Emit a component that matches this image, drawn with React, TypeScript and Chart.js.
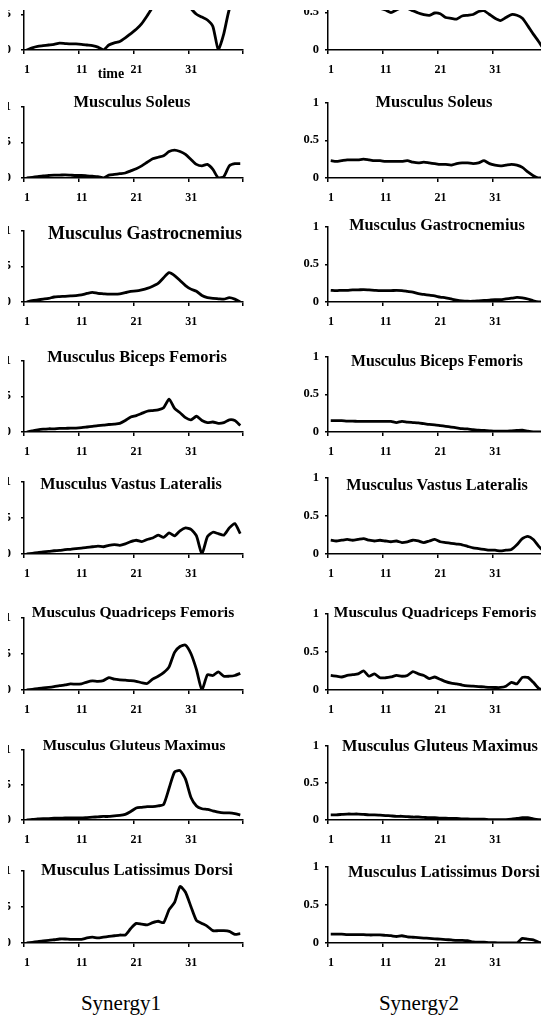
import React, { useEffect, useRef } from "react";
import { Chart, registerables } from "chart.js";

Chart.register(...registerables);

// ---------- data ----------
const TIME = [1, 2, 3, 4, 5, 6, 7, 8, 9, 10, 11, 12, 13, 14, 15, 16, 17, 18, 19, 20, 21, 22, 23, 24, 25, 26, 27, 28, 29, 30, 31, 32, 33, 34, 35, 36, 37, 38, 39, 40];
const X_TICK_LABELS = ["1", "11", "21", "31", ""];
const X_TICK_POSITIONS = [0.5, 10.5, 20.5, 30.5, 40.5];
const Y_TICKS = [0, 0.5, 1];

const MUSCLES = [
  "",
  "Musculus Soleus",
  "Musculus Gastrocnemius",
  "Musculus Biceps Femoris",
  "Musculus Vastus Lateralis",
  "Musculus Quadriceps Femoris",
  "Musculus Gluteus Maximus",
  "Musculus Latissimus Dorsi",
];
const SYNERGY_LABELS = ["Synergy1", "Synergy2"];
const X_AXIS_TITLE = "time";

const TOP_S1 = [0, 0.03, 0.05, 0.06, 0.07, 0.08, 0.095, 0.09, 0.085, 0.085, 0.08, 0.07, 0.06, 0.04, 0.0, 0.07, 0.1, 0.12, 0.17, 0.23, 0.29, 0.37, 0.48, 0.6, 0.72, 0.82, 0.88, 0.85, 0.78, 0.68, 0.58, 0.5, 0.46, 0.42, 0.33, 0.0, 0.23, 0.57, 0.7, 0.75];
const TOP_S2 = [0.56, 0.57, 0.58, 0.57, 0.56, 0.55, 0.56, 0.57, 0.56, 0.55, 0.53, 0.495, 0.53, 0.56, 0.55, 0.52, 0.49, 0.47, 0.46, 0.49, 0.48, 0.43, 0.42, 0.41, 0.45, 0.46, 0.47, 0.51, 0.52, 0.47, 0.42, 0.39, 0.43, 0.47, 0.46, 0.42, 0.32, 0.21, 0.11, 0.0];

const SOLEUS_S1 = [0, 0.01, 0.02, 0.03, 0.035, 0.04, 0.04, 0.045, 0.04, 0.035, 0.035, 0.03, 0.025, 0.02, 0.0, 0.04, 0.05, 0.06, 0.07, 0.1, 0.13, 0.17, 0.22, 0.27, 0.29, 0.31, 0.37, 0.39, 0.37, 0.33, 0.26, 0.19, 0.17, 0.19, 0.12, 0.0, 0.02, 0.17, 0.2, 0.2];
const SOLEUS_S2 = [0.23, 0.22, 0.23, 0.24, 0.24, 0.24, 0.25, 0.24, 0.23, 0.23, 0.22, 0.22, 0.22, 0.22, 0.23, 0.21, 0.2, 0.21, 0.2, 0.19, 0.18, 0.18, 0.17, 0.19, 0.2, 0.2, 0.19, 0.2, 0.23, 0.19, 0.17, 0.16, 0.17, 0.18, 0.17, 0.14, 0.08, 0.03, 0.0, 0.0];

const GASTRO_S1 = [0, 0.02, 0.03, 0.04, 0.05, 0.07, 0.075, 0.08, 0.085, 0.09, 0.1, 0.12, 0.135, 0.12, 0.115, 0.11, 0.11, 0.115, 0.13, 0.15, 0.155, 0.17, 0.19, 0.22, 0.26, 0.34, 0.41, 0.37, 0.3, 0.23, 0.18, 0.15, 0.09, 0.06, 0.05, 0.045, 0.04, 0.06, 0.04, 0.0];
const GASTRO_S2 = [0.155, 0.15, 0.155, 0.155, 0.16, 0.16, 0.165, 0.16, 0.155, 0.15, 0.15, 0.15, 0.155, 0.15, 0.14, 0.13, 0.11, 0.1, 0.09, 0.08, 0.065, 0.055, 0.04, 0.025, 0.015, 0.01, 0.01, 0.015, 0.02, 0.025, 0.03, 0.03, 0.04, 0.05, 0.06, 0.055, 0.04, 0.015, 0.0, 0.0];

const BICEPS_S1 = [0, 0.015, 0.03, 0.04, 0.045, 0.045, 0.05, 0.05, 0.055, 0.055, 0.06, 0.07, 0.08, 0.09, 0.095, 0.105, 0.11, 0.12, 0.16, 0.21, 0.23, 0.26, 0.29, 0.3, 0.31, 0.34, 0.46, 0.33, 0.27, 0.2, 0.17, 0.22, 0.16, 0.13, 0.14, 0.12, 0.13, 0.17, 0.16, 0.09];
const BICEPS_S2 = [0.15, 0.15, 0.15, 0.145, 0.145, 0.14, 0.14, 0.14, 0.14, 0.14, 0.14, 0.14, 0.125, 0.14, 0.13, 0.125, 0.12, 0.11, 0.1, 0.095, 0.085, 0.075, 0.065, 0.055, 0.045, 0.04, 0.03, 0.025, 0.02, 0.015, 0.01, 0.01, 0.01, 0.015, 0.02, 0.025, 0.01, 0.0, 0.0, 0.0];

const VASTUS_S1 = [0, 0.01, 0.02, 0.03, 0.035, 0.045, 0.05, 0.06, 0.065, 0.075, 0.08, 0.09, 0.1, 0.11, 0.1, 0.12, 0.13, 0.12, 0.14, 0.17, 0.19, 0.17, 0.2, 0.22, 0.26, 0.23, 0.29, 0.25, 0.32, 0.36, 0.34, 0.25, 0.0, 0.24, 0.3, 0.28, 0.26, 0.36, 0.42, 0.28];
const VASTUS_S2 = [0.18, 0.17, 0.18, 0.19, 0.18, 0.19, 0.2, 0.18, 0.17, 0.18, 0.17, 0.16, 0.17, 0.15, 0.16, 0.18, 0.17, 0.15, 0.17, 0.19, 0.16, 0.15, 0.14, 0.13, 0.12, 0.1, 0.08, 0.07, 0.06, 0.05, 0.05, 0.04, 0.05, 0.06, 0.12, 0.2, 0.23, 0.19, 0.1, 0.03];

const QUAD_S1 = [0, 0.01, 0.02, 0.03, 0.035, 0.045, 0.06, 0.07, 0.085, 0.08, 0.085, 0.11, 0.125, 0.12, 0.13, 0.17, 0.15, 0.14, 0.135, 0.13, 0.12, 0.1, 0.09, 0.15, 0.19, 0.24, 0.32, 0.52, 0.6, 0.62, 0.5, 0.28, 0.0, 0.21, 0.2, 0.25, 0.19, 0.19, 0.2, 0.23];
const QUAD_S2 = [0.19, 0.18, 0.17, 0.19, 0.2, 0.21, 0.25, 0.18, 0.21, 0.16, 0.16, 0.17, 0.19, 0.18, 0.19, 0.24, 0.21, 0.19, 0.15, 0.17, 0.14, 0.11, 0.09, 0.08, 0.065, 0.055, 0.05, 0.045, 0.04, 0.035, 0.033, 0.033, 0.05, 0.1, 0.08, 0.165, 0.165, 0.1, 0.02, 0.0];

const GLUTEUS_S1 = [0, 0.01, 0.015, 0.02, 0.02, 0.025, 0.025, 0.03, 0.03, 0.03, 0.03, 0.035, 0.04, 0.045, 0.05, 0.05, 0.06, 0.065, 0.08, 0.12, 0.17, 0.18, 0.19, 0.19, 0.2, 0.22, 0.45, 0.68, 0.7, 0.58, 0.32, 0.2, 0.16, 0.15, 0.13, 0.11, 0.1, 0.1, 0.09, 0.07];
const GLUTEUS_S2 = [0.07, 0.07, 0.075, 0.08, 0.08, 0.08, 0.075, 0.07, 0.07, 0.065, 0.06, 0.055, 0.05, 0.05, 0.045, 0.04, 0.04, 0.035, 0.03, 0.03, 0.025, 0.025, 0.02, 0.02, 0.015, 0.015, 0.01, 0.01, 0.01, 0.005, 0.005, 0.005, 0.005, 0.01, 0.02, 0.03, 0.03, 0.015, 0.005, 0.0];

const LAT_S1 = [0, 0.01, 0.02, 0.03, 0.035, 0.045, 0.055, 0.055, 0.05, 0.05, 0.05, 0.07, 0.08, 0.07, 0.08, 0.09, 0.1, 0.11, 0.11, 0.2, 0.27, 0.26, 0.25, 0.28, 0.3, 0.28, 0.46, 0.56, 0.78, 0.7, 0.5, 0.31, 0.27, 0.23, 0.17, 0.17, 0.17, 0.16, 0.12, 0.13];
const LAT_S2 = [0.115, 0.115, 0.115, 0.11, 0.11, 0.11, 0.11, 0.105, 0.105, 0.105, 0.1, 0.095, 0.085, 0.095, 0.08, 0.075, 0.07, 0.065, 0.06, 0.055, 0.05, 0.045, 0.04, 0.035, 0.035, 0.03, 0.015, 0.01, 0.01, 0.005, 0.005, 0.0, 0.0, 0.0, 0.0, 0.06, 0.05, 0.04, 0.01, 0.0];

const SERIES = [
  [TOP_S1, TOP_S2],
  [SOLEUS_S1, SOLEUS_S2],
  [GASTRO_S1, GASTRO_S2],
  [BICEPS_S1, BICEPS_S2],
  [VASTUS_S1, VASTUS_S2],
  [QUAD_S1, QUAD_S2],
  [GLUTEUS_S1, GLUTEUS_S2],
  [LAT_S1, LAT_S2],
];

// ---------- layout (page pixel coordinates) ----------
const FONT = '"Liberation Serif", "Times New Roman", serif';
const ORIGIN_X = 8;
const ORIGIN_Y = 10;
const AXIS_X = [24, 328];
const Y_LABEL_PAD = [10, 6];
const ROW_Y = [
  [-31, 50],
  [97, 178],
  [221, 302],
  [351, 432],
  [472, 554],
  [608, 690],
  [740, 820],
  [861, 943],
];
const TITLE_POS = [
  [null, null],
  [[132, 102, 16.5], [434, 102, 16.5]],
  [[145, 233, 18], [437, 225, 16.3]],
  [[137, 357, 16.5], [437, 361, 15.8]],
  [[131, 484, 16.2], [437, 485, 16.2]],
  [[133, 612, 15.5], [435, 612, 15.5]],
  [[134, 745, 15.3], [440, 746, 16.4]],
  [[137, 870, 16.6], [444, 872, 16.6]],
];
const YW = 40;
const PT = 8;
const PR = 6;
const XH = 34;
const AREA_W = 222;

function Panel({ values, col, row }: { values: number[]; col: number; row: number }) {
  const ref = useRef<HTMLCanvasElement | null>(null);
  const [y1, y0] = ROW_Y[row];
  const w = YW + AREA_W + PR;
  const h = PT + (y0 - y1) + XH;

  useEffect(() => {
    if (!ref.current) return;
    const chart = new Chart(ref.current, {
      type: "line",
      data: {
        datasets: [
          {
            data: TIME.map((t, i) => ({ x: t, y: values[i] })),
            borderColor: "#000",
            borderWidth: 2.8,
            pointRadius: 0,
            tension: 0.2,
            fill: false,
          },
        ],
      },
      options: {
        animation: false,
        responsive: false,
        devicePixelRatio: 1,
        layout: { padding: { top: PT, right: PR, left: 0, bottom: 0 } },
        plugins: {
          legend: { display: false },
          tooltip: { enabled: false },
          title: { display: false },
        },
        scales: {
          x: {
            type: "linear",
            min: 0.5,
            max: 40.5,
            afterBuildTicks: (s: any) => {
              s.ticks = X_TICK_POSITIONS.map((v) => ({ value: v }));
            },
            afterFit: (s: any) => {
              s.height = XH;
            },
            grid: {
              display: true,
              drawOnChartArea: false,
              drawTicks: true,
              tickLength: 4,
              color: "#000",
              lineWidth: 1.5,
            },
            border: { display: true, color: "#000", width: 1.5 },
            ticks: {
              callback: (_v: any, i: number) => X_TICK_LABELS[i] ?? "",
              labelOffset: 3,
              padding: 9,
              autoSkip: false,
              maxRotation: 0,
              color: "#000",
              font: { family: FONT, weight: "bold", size: 12 },
            },
          },
          y: {
            min: 0,
            max: 1,
            afterBuildTicks: (s: any) => {
              s.ticks = Y_TICKS.map((v) => ({ value: v }));
            },
            afterFit: (s: any) => {
              s.width = YW;
            },
            grid: {
              display: true,
              drawOnChartArea: false,
              drawTicks: true,
              tickLength: 3,
              color: "#000",
              lineWidth: 1.5,
            },
            border: { display: true, color: "#000", width: 1.5 },
            ticks: {
              callback: (v: any) => String(v),
              padding: Y_LABEL_PAD[col],
              color: "#000",
              font: { family: FONT, weight: "bold", size: 12.5 },
            },
          },
        },
      } as any,
    });
    return () => chart.destroy();
  }, [values, col]);

  return (
    <canvas
      ref={ref}
      width={w}
      height={h}
      style={{
        position: "absolute",
        left: AXIS_X[col] - YW - ORIGIN_X,
        top: y1 - PT - ORIGIN_Y,
        width: w,
        height: h,
      }}
    />
  );
}

function Label({ text, x, y, size, bold }: { text: string; x: number; y: number; size: number; bold: boolean }) {
  return (
    <div
      style={{
        position: "absolute",
        left: x - ORIGIN_X,
        top: y - ORIGIN_Y,
        transform: "translate(-50%, -50%)",
        fontFamily: FONT,
        fontWeight: bold ? "bold" : "normal",
        fontSize: size,
        whiteSpace: "nowrap",
        color: "#000",
        lineHeight: 1,
      }}
    >
      {text}
    </div>
  );
}

export default function App() {
  useEffect(() => {
    document.documentElement.style.overflow = "hidden";
    document.body.style.overflow = "hidden";
  }, []);

  return (
    <div
      style={{
        position: "relative",
        top: ORIGIN_Y - 8,
        width: 541,
        height: 1010,
        overflow: "hidden",
        background: "#fff",
      }}
    >
      {SERIES.map((pair, row) =>
        pair.map((vals, col) => <Panel key={`${row}-${col}`} values={vals} col={col} row={row} />)
      )}
      {TITLE_POS.map((pair, row) =>
        pair.map((p, col) =>
          p ? <Label key={`t-${row}-${col}`} text={MUSCLES[row]} x={p[0]} y={p[1]} size={p[2]} bold /> : null
        )
      )}
      <Label text={X_AXIS_TITLE} x={111} y={74} size={14} bold />
      <Label text={SYNERGY_LABELS[0]} x={121} y={1003} size={21} bold={false} />
      <Label text={SYNERGY_LABELS[1]} x={419} y={1003} size={21} bold={false} />
    </div>
  );
}
